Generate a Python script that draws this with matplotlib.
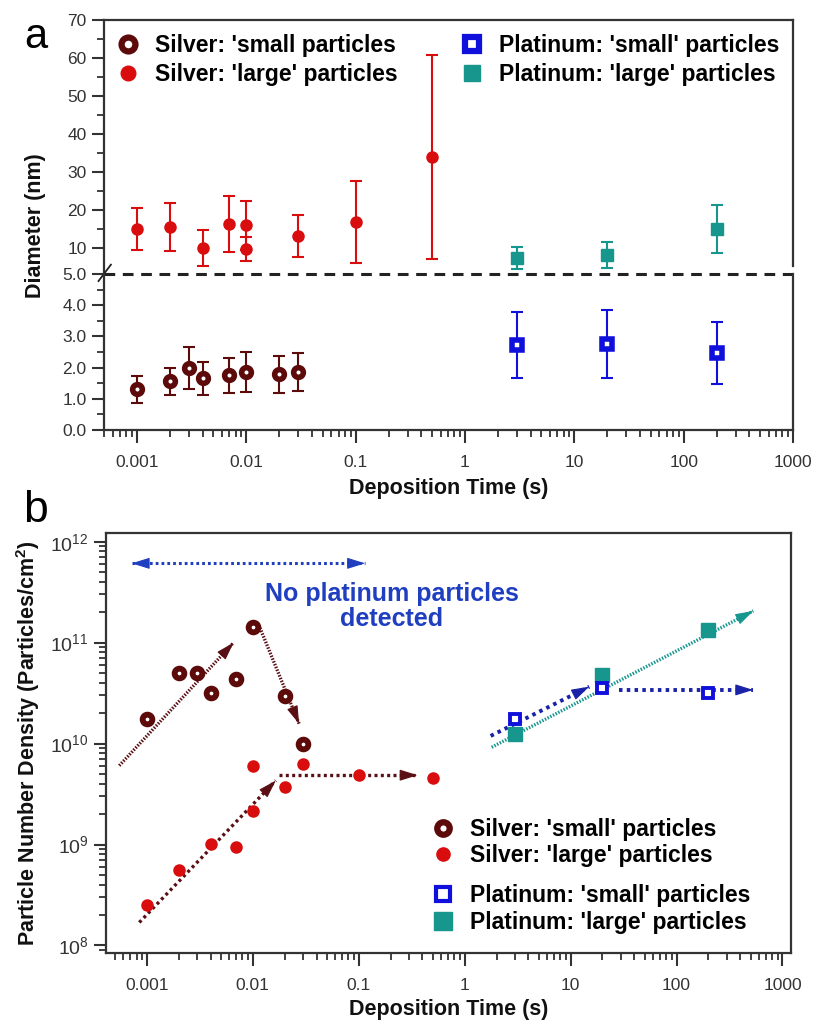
import numpy as np
import matplotlib
matplotlib.use('Agg')
import matplotlib.pyplot as plt
from matplotlib.ticker import (LogLocator, MultipleLocator, FixedLocator,
                               NullFormatter, FixedFormatter)

plt.rcParams['font.family'] = ['Liberation Sans', 'DejaVu Sans']
plt.rcParams['mathtext.fontset'] = 'custom'
plt.rcParams['mathtext.rm'] = 'Liberation Sans'
plt.rcParams['mathtext.bf'] = 'Liberation Sans:bold'
plt.rcParams['mathtext.it'] = 'Liberation Sans:italic'

# ---- panel a: diameters ----
ag_small_t = [0.001, 0.002, 0.003, 0.004, 0.007, 0.01, 0.02, 0.03]
ag_small_d = [1.30, 1.56, 1.99, 1.66, 1.75, 1.86, 1.78, 1.86]
ag_small_e = [0.43, 0.43, 0.67, 0.53, 0.55, 0.63, 0.58, 0.62]

ag_large_t = [0.001, 0.002, 0.004, 0.007, 0.01, 0.01, 0.03, 0.1, 0.5]
ag_large_d = [15.0, 15.5, 10.0, 16.3, 16.0, 9.7, 13.2, 16.8, 34.0]
ag_large_e = [5.6, 6.3, 4.7, 7.3, 6.4, 3.2, 5.4, 10.8, 26.8]

pt_small_t = [3, 20, 200]
pt_small_d = [2.72, 2.75, 2.46]
pt_small_e = [1.05, 1.09, 0.99]

pt_large_t = [3, 20, 200]
pt_large_d = [7.4, 8.2, 15.0]
pt_large_e = [2.9, 3.4, 6.3]

# ---- panel b: number density ----
nd_ag_small_t = [0.001, 0.002, 0.003, 0.004, 0.007, 0.01, 0.02, 0.03]
nd_ag_small = [1.75e10, 4.98e10, 4.98e10, 3.2e10, 4.35e10, 1.44e11, 2.97e10, 9.9e9]

nd_ag_large_t = [0.001, 0.002, 0.004, 0.007, 0.01, 0.01, 0.02, 0.03, 0.1, 0.5]
nd_ag_large = [2.5e8, 5.6e8, 1.02e9, 9.4e8, 2.17e9, 6.0e9, 3.7e9, 6.25e9, 4.86e9, 4.54e9]

nd_pt_small_t = [3, 20, 200]
nd_pt_small = [1.75e10, 3.58e10, 3.2e10]
nd_pt_large_t = [3, 20, 200]
nd_pt_large = [1.24e10, 4.79e10, 1.34e11]

# trend arrows (start, end) in data coords
trend_ag_small_up = [(5.5e-4, 6.05e9), (6.6e-3, 1.0e11)]
trend_ag_small_down = [(0.0117, 1.40e11), (0.0274, 1.57e10)]
trend_ag_large_up = [(8.5e-4, 1.69e8), (0.0165, 4.3e9)]
trend_ag_large_flat = [(0.0178, 4.86e9), (0.36, 4.86e9)]
trend_pt_small_up = [(1.76, 1.19e10), (15.0, 3.66e10)]
trend_pt_small_flat = [(28.6, 3.4e10), (530, 3.4e10)]
trend_pt_large_up = [(1.8, 9.2e9), (530, 2.06e11)]
no_pt_span = [(7.2e-4, 6.1e11), (0.115, 6.1e11)]

dec_ticks = [1e-3, 1e-2, 1e-1, 1, 10, 100, 1000]
dec_labels = ['0.001', '0.01', '0.1', '1', '10', '100', '1000']

c_ag_s = '#5c0a0a'
c_ag_l = '#d90d0d'
c_pt_s = '#1010dd'
c_pt_l = '#17968e'
c_arr_ag = '#5a0f14'
c_arr_pt = '#1a23a8'
c_txt = '#1f3fc0'
c_ax = '#333333'

lab_ag_s_a = "Silver: 'small particles"
lab_ag_s = "Silver: 'small' particles"
lab_ag_l = "Silver: 'large' particles"
lab_pt_s = "Platinum: 'small' particles"
lab_pt_l = "Platinum: 'large' particles"

fig = plt.figure(figsize=(8.14, 10.24), dpi=100)
ax_up = fig.add_axes([0.1278, 0.7324, 0.8464, 0.2480])
ax_lo = fig.add_axes([0.1278, 0.5801, 0.8464, 0.1523])
ax_b = fig.add_axes([0.1302, 0.0693, 0.8415, 0.4102])

ekw = dict(fmt='none', capsize=4.2, elinewidth=1.5, capthick=1.5)

ax_lo.errorbar(ag_small_t, ag_small_d, yerr=ag_small_e, ecolor=c_ag_s, **ekw)
ax_lo.plot(ag_small_t, ag_small_d, 'o', ms=7, mfc='white', mec=c_ag_s, mew=4)
ax_lo.errorbar(pt_small_t, pt_small_d, yerr=pt_small_e, ecolor=c_pt_s, **ekw)
ax_lo.plot(pt_small_t, pt_small_d, 's', ms=7.5, mfc='white', mec=c_pt_s, mew=4)
ax_up.errorbar(ag_large_t, ag_large_d, yerr=ag_large_e, ecolor=c_ag_l, **ekw)
ax_up.plot(ag_large_t, ag_large_d, 'o', ms=8, color=c_ag_l)
ax_up.errorbar(pt_large_t, pt_large_d, yerr=pt_large_e, ecolor=c_pt_l, **ekw)
ax_up.plot(pt_large_t, pt_large_d, 's', ms=9, color=c_pt_l)

ax_b.set_xscale('log')
ax_b.set_yscale('log')

for ax in (ax_up, ax_lo, ax_b):
    for s in ax.spines.values():
        s.set_linewidth(1.6)
        s.set_color(c_ax)
    ax.tick_params(which='major', direction='out', length=9, width=1.5,
                   labelsize=12.5, colors=c_ax, right=False, top=False)
    ax.tick_params(which='minor', direction='out', length=5, width=1.3,
                   colors=c_ax, right=False, top=False)

for ax in (ax_up, ax_lo):
    ax.set_xscale('log')
    ax.set_xlim(5e-4, 1000)

ax_up.set_ylim(3.2, 70)
ax_lo.set_ylim(0, 5)
ax_up.spines['bottom'].set_visible(False)
ax_lo.spines['top'].set_visible(False)
ax_up.spines['right'].set_bounds(5.3, 70)
ax_up.tick_params(axis='x', which='both', bottom=False, labelbottom=False)
ax_up.yaxis.set_major_locator(FixedLocator([10, 20, 30, 40, 50, 60, 70]))
ax_up.yaxis.set_minor_locator(FixedLocator([15, 25, 35, 45, 55, 65]))
ax_lo.yaxis.set_major_locator(MultipleLocator(1))
ax_lo.yaxis.set_minor_locator(MultipleLocator(0.5))
ax_lo.yaxis.set_major_formatter(plt.FormatStrFormatter('%.1f'))

for ax in (ax_lo, ax_b):
    ax.xaxis.set_major_locator(FixedLocator(dec_ticks))
    ax.xaxis.set_major_formatter(FixedFormatter(dec_labels))
    ax.xaxis.set_minor_locator(LogLocator(base=10, subs=np.arange(2, 10), numticks=20))
    ax.xaxis.set_minor_formatter(NullFormatter())
    ax.tick_params(axis='x', which='major', pad=9)

# break line
ax_lo.axhline(5.0, color='#222222', lw=2.2, ls=(0, (3.5, 2.5)), clip_on=False)
ax_lo.plot([-0.008, 0.010], [0.955, 1.06], transform=ax_lo.transAxes,
           color='#222222', lw=1.3, clip_on=False)

lab_kw = dict(fontsize=15.5, fontweight='bold', color='#111111')
ax_lo.set_xlabel('Deposition Time (s)', labelpad=6, **lab_kw)
fig.text(0.043, 0.78, 'Diameter (nm)', rotation=90, va='center', ha='center',
         **lab_kw)
fig.text(0.03, 0.983, 'a', fontsize=30, va='top', ha='left')

lg_kw = dict(frameon=False, handlelength=1.0, handletextpad=0.68,
             borderpad=0, borderaxespad=0,
             prop={'weight': 'bold', 'size': 16.5})
h1 = ax_up.plot([], [], 'o', ms=10, mfc='white', mec=c_ag_s, mew=4.5)[0]
h2 = ax_up.plot([], [], 'o', ms=10.5, color=c_ag_l)[0]
h3 = ax_up.plot([], [], 's', ms=10, mfc='white', mec=c_pt_s, mew=4.5)[0]
h4 = ax_up.plot([], [], 's', ms=12, color=c_pt_l)[0]
leg1 = ax_up.legend([h1, h2], [lab_ag_s_a, lab_ag_l], loc='center left',
                    bbox_to_anchor=(0.018, 0.843), labelspacing=0.28, **lg_kw)
ax_up.add_artist(leg1)
ax_up.legend([h3, h4], [lab_pt_s, lab_pt_l], loc='center left',
             bbox_to_anchor=(0.5174, 0.843), labelspacing=0.28, **lg_kw)

# ---- panel b ----
ax_b.set_xlim(10 ** -3.385, 10 ** 3.08)
ax_b.set_ylim(10 ** 7.925, 10 ** 12.086)
ax_b.yaxis.set_major_locator(LogLocator(base=10, numticks=10))
ax_b.yaxis.set_minor_locator(LogLocator(base=10, subs=np.arange(2, 10), numticks=20))
ax_b.yaxis.set_minor_formatter(NullFormatter())
ax_b.tick_params(axis='y', which='major', labelsize=14)

HEAD = '-|>,head_length=0.8,head_width=0.25'


def head(ax, tip, tail, color):
    # short solid arrow head pointing from tail to tip (direction in display space)
    p1 = ax.transData.transform(tip)
    p0 = ax.transData.transform(tail)
    u = (p1 - p0) / np.hypot(*(p1 - p0))
    off = -u * 11.0
    ax.annotate('', xy=tip, xytext=(off[0], off[1]), textcoords='offset points',
                zorder=2, arrowprops=dict(arrowstyle=HEAD, color=color, lw=0.8,
                                          mutation_scale=14, shrinkA=0, shrinkB=0))


def arrow(ax, seg, color, lw, ls, both=False):
    (x0, y0), (x1, y1) = seg
    ax.plot([x0, x1], [y0, y1], color=color, lw=lw, ls=ls, zorder=1)
    head(ax, (x1, y1), (x0, y0), color)
    if both:
        head(ax, (x0, y0), (x1, y1), color)


arrow(ax_b, trend_ag_small_up, c_arr_ag, 2.4, (0, (0.45, 0.45)))
arrow(ax_b, trend_ag_small_down, c_arr_ag, 2.4, (0, (0.45, 0.45)))
arrow(ax_b, trend_ag_large_up, c_arr_ag, 2.4, (0, (0.9, 1.0)))
arrow(ax_b, trend_ag_large_flat, c_arr_ag, 2.4, (0, (0.9, 1.0)))
arrow(ax_b, trend_pt_small_up, c_arr_pt, 2.8, (0, (0.9, 1.1)))
arrow(ax_b, trend_pt_small_flat, c_arr_pt, 2.8, (0, (0.9, 1.1)))
arrow(ax_b, trend_pt_large_up, c_pt_l, 2.4, (0, (0.45, 0.45)))
arrow(ax_b, no_pt_span, c_txt, 2.2, (0, (0.9, 1.0)), both=True)
ax_b.text(0.206, 2.3e11, 'No platinum particles\ndetected', color=c_txt,
          fontsize=18, fontweight='bold', ha='center', va='center',
          linespacing=1.05)

ax_b.plot(nd_ag_small_t, nd_ag_small, 'o', ms=7, mfc='white', mec=c_ag_s, mew=4.2,
          ls='none', zorder=3)
ax_b.plot(nd_ag_large_t, nd_ag_large, 'o', ms=8, color=c_ag_l, ls='none', zorder=3)
ax_b.plot(nd_pt_large_t, nd_pt_large, 's', ms=10.5, color=c_pt_l, ls='none', zorder=3)
ax_b.plot(nd_pt_small_t, nd_pt_small, 's', ms=7, mfc='white', mec=c_pt_s, mew=2.8,
          ls='none', zorder=3)

ax_b.set_xlabel('Deposition Time (s)', labelpad=4, **lab_kw)
ax_b.set_ylabel('Particle Number Density (Particles/cm$^\\mathbf{2}$)', labelpad=6,
                **lab_kw)
fig.text(0.028, 0.521, 'b', fontsize=32, va='top', ha='left')

hb1 = ax_b.plot([], [], 'o', ms=9, mfc='white', mec=c_ag_s, mew=4.5)[0]
hb2 = ax_b.plot([], [], 'o', ms=9.5, color=c_ag_l)[0]
hb3 = ax_b.plot([], [], 's', ms=10, mfc='white', mec=c_pt_s, mew=3)[0]
hb4 = ax_b.plot([], [], 's', ms=12.5, color=c_pt_l)[0]
legb1 = ax_b.legend([hb1, hb2], [lab_ag_s, lab_ag_l], loc='center left',
                    bbox_to_anchor=(0.475, 0.263), labelspacing=0.15, **lg_kw)
ax_b.add_artist(legb1)
ax_b.legend([hb3, hb4], [lab_pt_s, lab_pt_l], loc='center left',
            bbox_to_anchor=(0.475, 0.105), labelspacing=0.15, **lg_kw)

fig.savefig('out.png', dpi=100)
